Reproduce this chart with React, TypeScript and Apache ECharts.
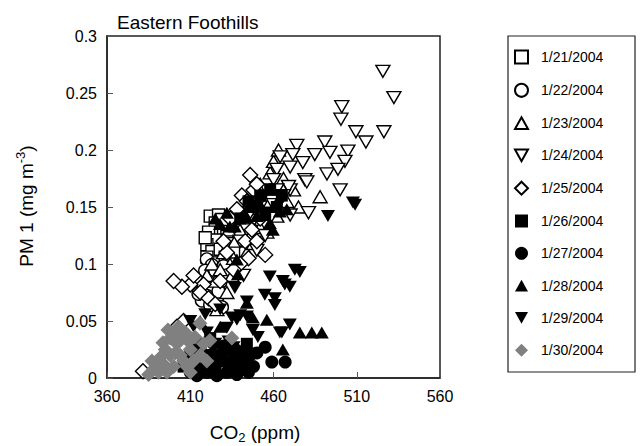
import React, { useEffect, useRef } from "react";
import * as echarts from "echarts";

const legendNames = ["1/21/2004", "1/22/2004", "1/23/2004", "1/24/2004", "1/25/2004", "1/26/2004", "1/27/2004", "1/28/2004", "1/29/2004", "1/30/2004"];
const xTicks = [360, 410, 460, 510, 560];
const yTicks = [0, 0.05, 0.1, 0.15, 0.2, 0.25, 0.3];

const d0121 = [[422,0.142],[427,0.143],[425,0.136],[430,0.131],[421,0.128],[432,0.124],[425,0.121],[420,0.117],[423,0.111],[428,0.113],[420,0.106],[425,0.101],[431,0.106],[422,0.097],[434,0.118],[429,0.139],[419,0.123],[433,0.1],[436,0.11]];
const d0122 = [[420,0.104],[423,0.099],[419,0.094],[425,0.089],[421,0.085],[418,0.08],[423,0.077],[420,0.072],[426,0.07],[417,0.068],[422,0.064],[428,0.084],[425,0.094],[430,0.098],[432,0.09],[427,0.076],[415,0.074],[429,0.062]];
const d0123 = [[420,0.09],[423,0.1],[425,0.085],[428,0.095],[430,0.11],[432,0.075],[435,0.09],[437,0.12],[440,0.13],[442,0.14],[445,0.15],[447,0.135],[450,0.16],[452,0.17],[455,0.155],[458,0.18],[460,0.19],[463,0.2],[466,0.175],[468,0.155],[472,0.165],[475,0.15],[488,0.159],[444,0.11],[426,0.06],[433,0.13],[438,0.145],[456,0.128],[462,0.142],[448,0.118],[452,0.132],[436,0.105]];
const d0124 = [[525.7,0.269],[532.3,0.246],[501,0.238],[500.5,0.227],[509.5,0.216],[526.3,0.216],[515.5,0.207],[474,0.204],[490.8,0.207],[493.9,0.198],[484.8,0.196],[504.7,0.199],[502.9,0.19],[477.6,0.189],[492.1,0.179],[498.7,0.183],[478.8,0.174],[471.6,0.196],[464,0.194],[462,0.183],[470,0.185],[480,0.172],[470,0.165],[460,0.174],[469,0.168],[462,0.165],[456,0.165],[466,0.16],[470,0.143],[500,0.165],[452,0.15],[458,0.14],[448,0.138],[455,0.125],[444,0.13],[450,0.112],[440,0.12],[446,0.145],[438,0.1],[442,0.09],[481,0.145],[460,0.152],[453,0.158]];
const d0125 = [[446,0.178],[448,0.165],[450,0.17],[441,0.16],[444,0.155],[438,0.148],[452,0.14],[447,0.13],[443,0.12],[450,0.12],[455,0.108],[445,0.105],[440,0.1],[432,0.11],[436,0.095],[428,0.085],[418,0.082],[410,0.082],[405,0.08],[400,0.085],[412,0.09],[416,0.075],[421,0.07],[425,0.065],[406,0.05],[402,0.045],[381.6,0.006],[430,0.12],[434,0.14]];
const d0126 = [[445,0.155],[448,0.15],[452,0.16],[455,0.145],[458,0.165],[462,0.15],[465,0.16],[440,0.14],[428,0.02],[432,0.025],[436,0.015],[440,0.02],[444,0.03],[425,0.01],[420,0.015],[418,0.02],[414,0.03],[422,0.035],[410,0.02],[406,0.01]];
const d0127 = [[459,0.014],[467,0.014],[434,0.009],[440,0.009],[446,0.02],[455,0.027],[450,0.022],[430,0.015],[425,0.01],[420,0.005],[415,0.01],[428,0.02],[437,0.025],[442,0.015],[422,0.02],[418,0.015],[432,0.005],[410,0.005],[445,0.005],[412,0.012],[416,0.025],[424,0.03],[430,0.028],[436,0.018],[426,0.002],[414,0.002],[438,0.003],[448,0.01]];
const d0128 = [[427.8,0.135],[433.8,0.133],[436.8,0.133],[444,0.141],[450,0.142],[454.8,0.143],[457.8,0.136],[463.8,0.146],[468,0.148],[459.6,0.13],[438,0.104],[438.6,0.091],[444,0.066],[447.6,0.053],[441.6,0.027],[465.6,0.025],[475.8,0.04],[483,0.04],[489,0.04],[456,0.051],[425,0.14],[432,0.145],[452,0.152],[462,0.154],[445,0.15],[420,0.035],[428,0.045],[434,0.03],[416,0.05]];
const d0129 = [[507.7,0.154],[509,0.152],[492.7,0.142],[475.8,0.093],[466.8,0.082],[469.8,0.08],[469.8,0.047],[465,0.04],[435,0.053],[440,0.055],[444,0.067],[460.8,0.064],[432,0.044],[450.6,0.036],[463.8,0.04],[433,0.032],[436,0.027],[410,0.05],[419,0.056],[436.8,0.079],[454.8,0.073],[460.8,0.07],[444,0.054],[438,0.051],[447.6,0.042],[457.8,0.089],[465.6,0.085],[472.8,0.095],[425,0.03],[415,0.02],[428,0.06],[405,0.015],[420,0.04],[412,0.045]];
const d0130 = [[385,0.003],[388,0.008],[390,0.012],[392,0.018],[393.6,0.031],[395,0.025],[396.6,0.042],[398,0.035],[400,0.04],[402,0.03],[404,0.02],[406,0.015],[408,0.01],[410,0.005],[412.8,0.036],[415.8,0.048],[418,0.03],[421.8,0.033],[435,0.035],[400,0.01],[396,0.005],[403,0.045],[410,0.025],[416,0.02],[420,0.015],[405,0.035],[398,0.02],[412,0.015],[391,0.005],[407,0.04],[394,0.012],[401,0.022],[409,0.032],[387,0.015]];

const DOWN = "path://M0,0L10,0L5,9Z";
const UP = "path://M5,0L10,9L0,9Z";

function mk(name: string, data: number[][], symbol: string, size: any, filled: boolean, color = "#000") {
  return {
    name,
    type: "scatter",
    data,
    symbol,
    symbolSize: size,
    itemStyle: filled
      ? { color, borderWidth: 0, opacity: 1 }
      : { color: "#fff", borderColor: "#000", borderWidth: 1.4, opacity: 1 },
    emphasis: { disabled: true },
  };
}

export default function App() {
  const ref = useRef<HTMLDivElement>(null);
  useEffect(() => {
    const chart = echarts.init(ref.current!, null, { renderer: "svg" });
    const font = "Liberation Sans, Arial, Helvetica, sans-serif";
    chart.setOption({
      animation: false,
      textStyle: { fontFamily: font },
      grid: { left: 107, right: 202, top: 36, bottom: 68, show: true, borderColor: "#222", borderWidth: 1.5, backgroundColor: "transparent" },
      xAxis: {
        type: "value", min: xTicks[0], max: xTicks[xTicks.length - 1], interval: 50,
        axisLine: { show: true, lineStyle: { color: "#222", width: 1.5 } },
        axisTick: { show: true, inside: true, length: 6, lineStyle: { color: "#555" } },
        axisLabel: { color: "#000", fontSize: 16, fontFamily: font, margin: 10 },
        splitLine: { show: false },
      },
      yAxis: {
        type: "value", min: yTicks[0], max: yTicks[yTicks.length - 1], interval: 0.05,
        axisLine: { show: true, lineStyle: { color: "#222", width: 1.5 } },
        axisTick: { show: true, inside: true, length: 6, lineStyle: { color: "#555" } },
        axisLabel: { color: "#000", fontSize: 16, fontFamily: font, margin: 10 },
        splitLine: { show: false },
      },
      legend: {
        orient: "vertical", left: 514, top: 49.5, padding: 0, itemWidth: 13, itemHeight: 13, itemGap: 18.3,
        data: legendNames, selectedMode: false,
        textStyle: { fontSize: 14, lineHeight: 13, color: "#000", fontFamily: font, padding: [0, 0, 0, 8] },
      },
      graphic: [
        { type: "rect", shape: { x: 508, y: 36, width: 127, height: 336 }, style: { fill: "none", stroke: "#222", lineWidth: 1.2 } },
        { type: "text", x: 117, y: 22, style: { text: "Eastern Foothills", fontSize: 19, fontFamily: font, fill: "#000", verticalAlign: "middle" } },
        {
          type: "text", x: 255, y: 432,
          style: {
            text: "{a|CO}{s|2}{a| (ppm)}", align: "center", verticalAlign: "middle", fill: "#000",
            rich: { a: { fontSize: 19, fontFamily: font, fill: "#000" }, s: { fontSize: 13, fontFamily: font, fill: "#000", padding: [10, 0, 0, 0] } },
          },
        },
        {
          type: "text", x: 26, y: 206, rotation: Math.PI / 2,
          style: {
            text: "{a|PM 1 (mg m}{s|-3}{a|)}", align: "center", verticalAlign: "middle", fill: "#000",
            rich: { a: { fontSize: 19, fontFamily: font, fill: "#000" }, s: { fontSize: 13, fontFamily: font, fill: "#000", padding: [0, 0, 12, 0] } },
          },
        },
      ],
      series: [
        mk(legendNames[0], d0121, "rect", 12, false),
        mk(legendNames[1], d0122, "circle", 13, false),
        mk(legendNames[2], d0123, UP, [14, 12], false),
        mk(legendNames[3], d0124, DOWN, [14, 12], false),
        mk(legendNames[4], d0125, "diamond", 15, false),
        mk(legendNames[5], d0126, "rect", 12, true),
        mk(legendNames[6], d0127, "circle", 13, true),
        mk(legendNames[7], d0128, UP, [14, 12], true),
        mk(legendNames[8], d0129, DOWN, [14, 12], true),
        mk(legendNames[9], d0130, "diamond", 15, true, "#808080"),
      ],
    });
    return () => chart.dispose();
  }, []);
  return <div ref={ref} style={{ width: 642, height: 446, position: "absolute", left: 0, top: 0 }} />;
}
